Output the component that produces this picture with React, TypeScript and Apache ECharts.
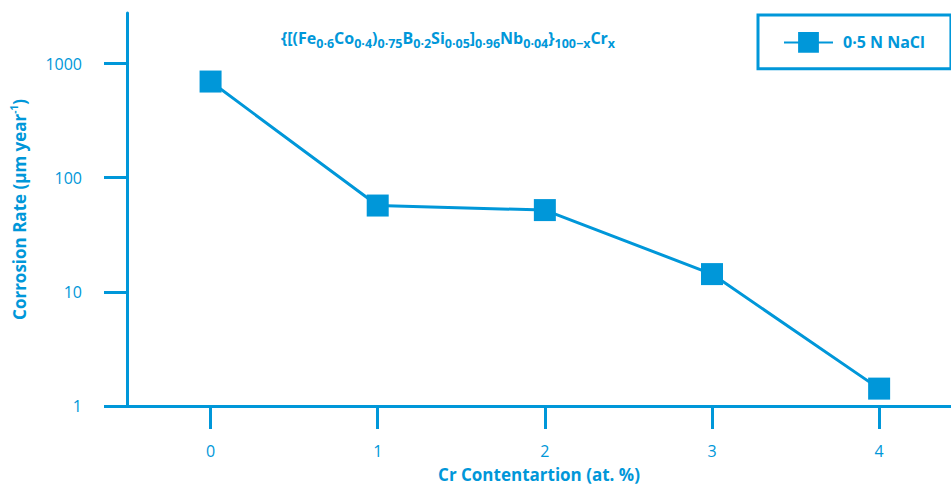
import React, { useEffect, useRef } from "react";
import * as echarts from "echarts";

const BLUE = "#0097d9";
const FONT = "Open Sans";

const crContent: number[] = [0, 1, 2, 3, 4];
const corrosionRate: number[] = [695, 57, 52, 14.3, 1.42];
const xTickValues: number[] = [0, 1, 2, 3, 4];
const seriesName = "0·5 N NaCl";

export default function App() {
  const ref = useRef<HTMLDivElement>(null);
  useEffect(() => {
    if (!ref.current) return;
    const chart = echarts.init(ref.current, undefined, { renderer: "svg" });
    const axisLineStyle = { color: BLUE, width: 3 };
    chart.setOption({
      animation: false,
      textStyle: { fontFamily: FONT, color: BLUE },
      title: {
        left: 281,
        top: 26,
        padding: 0,
        text:
          "{b|{[(Fe}{s|0·6}{b|Co}{s|0·4}{b|)}{s|0·75}{b|B}{s|0·2}{b|Si}{s|0·05}{b|]}{s|0·96}{b|Nb}{s|0·04}}{s|100−x}{b|Cr}{s|x}",
        textStyle: {
          fontFamily: FONT,
          fontSize: 16,
          fontWeight: "bold",
          color: BLUE,
          lineHeight: 24,
          rich: {
            b: { fontFamily: FONT, fontSize: 16, fontWeight: "bold", color: BLUE, lineHeight: 24 },
            s: { fontFamily: FONT, fontSize: 12.5, fontWeight: "bold", color: BLUE, lineHeight: 12.5, verticalAlign: "bottom" },
          },
        },
      },
      legend: {
        data: [seriesName],
        left: 758,
        top: 15,
        padding: [17, 26, 16, 25],
        borderColor: BLUE,
        borderWidth: 3,
        itemWidth: 49,
        itemHeight: 26,
        textStyle: { fontFamily: FONT, fontSize: 16, fontWeight: "bold", color: BLUE, padding: [0, 0, 0, 5] },
      },
      grid: [
        { left: 127, right: 0, top: 63.5, bottom: 82, outerBoundsMode: "none", containLabel: false },
        { left: 127, right: 0, top: 13, bottom: 82, outerBoundsMode: "none", containLabel: false },
      ],
      xAxis: [
        {
          type: "value",
          gridIndex: 0,
          min: -0.5,
          max: 4.43,
          name: "Cr Contentartion (at. %)",
          nameLocation: "middle",
          nameGap: 60,
          nameTextStyle: { fontFamily: FONT, fontSize: 17, fontWeight: "bold", color: BLUE, lineHeight: 17 },
          axisLine: { show: true, onZero: false, lineStyle: axisLineStyle },
          axisTick: { show: true, length: 23, lineStyle: axisLineStyle, customValues: xTickValues },
          axisLabel: { show: true, margin: 37, fontFamily: FONT, fontSize: 16, color: BLUE, customValues: xTickValues },
          splitLine: { show: false },
        },
        {
          type: "value",
          gridIndex: 1,
          min: -0.5,
          max: 4.43,
          show: false,
        },
      ],
      yAxis: [
        {
          type: "log",
          gridIndex: 0,
          logBase: 10,
          min: 1,
          max: 1000,
          axisLine: { show: true, onZero: false, lineStyle: axisLineStyle },
          axisTick: { show: true, length: 23, lineStyle: axisLineStyle },
          axisLabel: {
            show: true,
            margin: 45,
            fontFamily: FONT,
            fontSize: 16,
            color: BLUE,
            formatter: (v: number) => String(Math.round(v)),
          },
          splitLine: { show: false },
          minorTick: { show: false },
          minorSplitLine: { show: false },
        },
        {
          type: "value",
          gridIndex: 1,
          min: 0,
          max: 1,
          name: "Corrosion Rate (μm year{sup|-1})",
          nameLocation: "middle",
          nameGap: 98,
          nameTextStyle: {
            fontFamily: FONT,
            fontSize: 17,
            fontWeight: "bold",
            color: BLUE,
            lineHeight: 20,
            rich: {
              sup: { fontFamily: FONT, fontSize: 10, fontWeight: "bold", color: BLUE, lineHeight: 10, verticalAlign: "top" },
            },
          },
          axisLine: { show: true, onZero: false, lineStyle: axisLineStyle },
          axisTick: { show: false },
          axisLabel: { show: false },
          splitLine: { show: false },
        },
      ],
      series: [
        {
          name: seriesName,
          type: "line",
          xAxisIndex: 0,
          yAxisIndex: 0,
          data: crContent.map((x, i) => [x, corrosionRate[i]]),
          symbol: "rect",
          symbolSize: 22,
          lineStyle: { color: BLUE, width: 3 },
          itemStyle: { color: BLUE },
        },
      ],
    });
    return () => chart.dispose();
  }, []);
  return <div ref={ref} style={{ position: "absolute", left: 0, top: 0, width: 951, height: 488 }} />;
}
